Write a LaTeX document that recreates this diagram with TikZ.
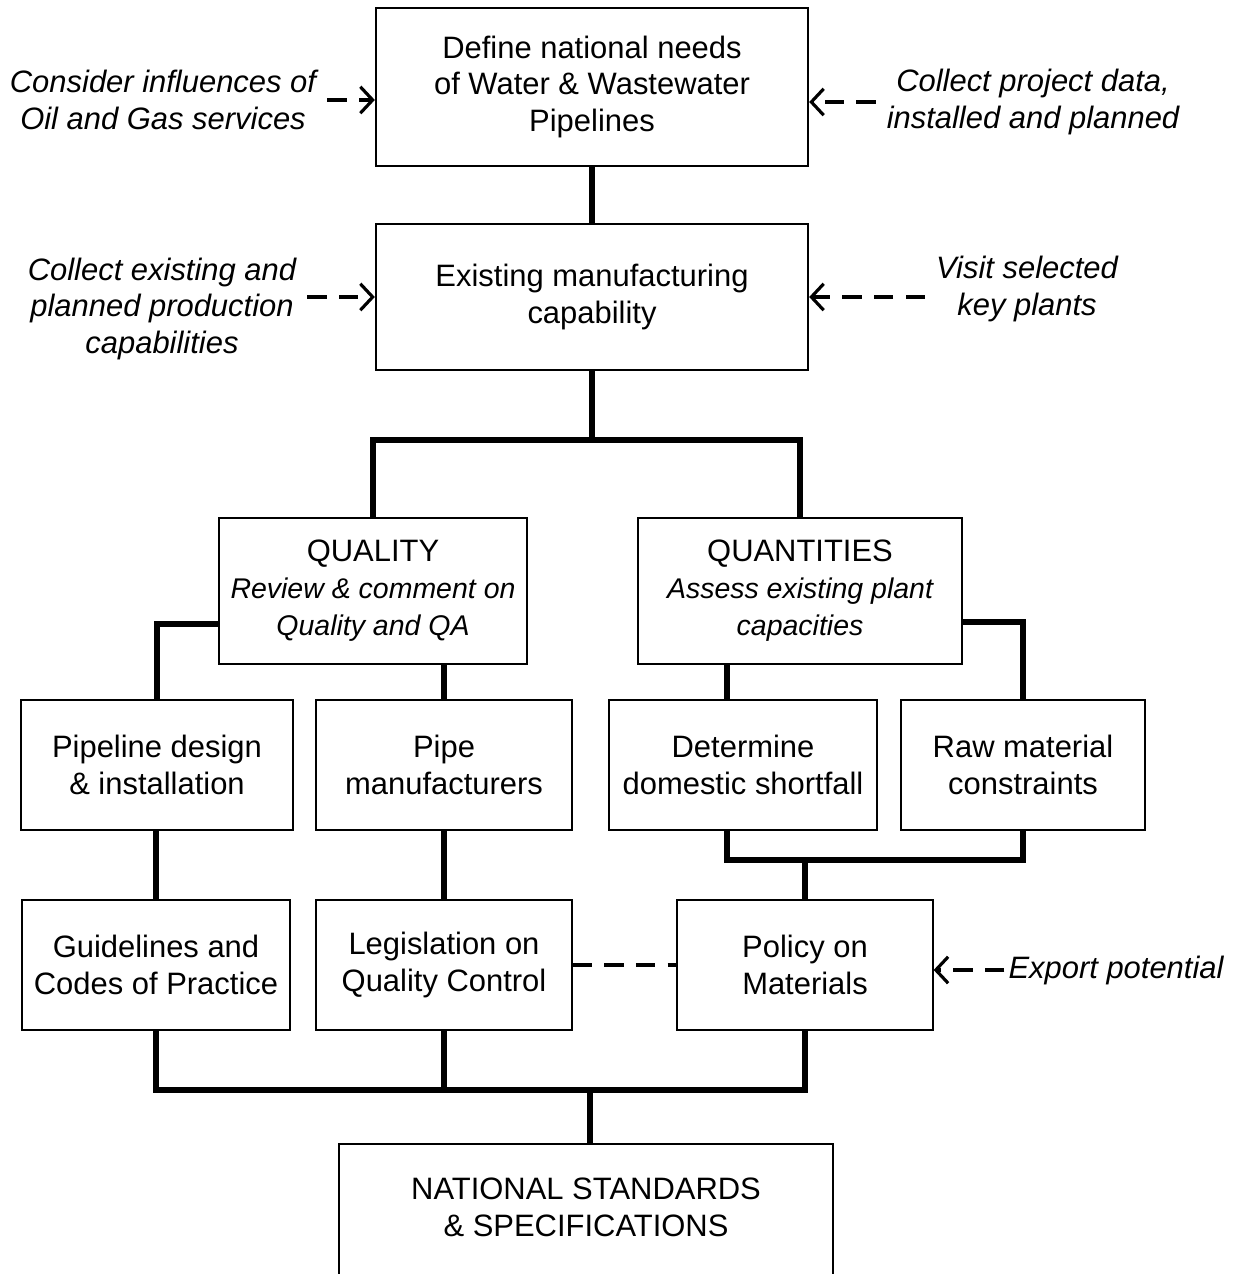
\documentclass[tikz,border=0pt]{standalone}
\usepackage{fontspec}
\setmainfont{Liberation Sans}
\usetikzlibrary{arrows.meta}

\newcommand{\subline}[1]{{\fontsize{8.1}{10.5}\selectfont\itshape #1}}

\begin{document}
\begin{tikzpicture}[x=0.01cm,y=-0.01cm,
            font=\fontsize{8.8}{10.5}\selectfont,
            box/.style={draw, line width=0.6pt, align=center, inner sep=0pt},
            note/.style={align=center, inner sep=3pt, font=\fontsize{8.8}{10.5}\selectfont\itshape},
            link/.style={line width=1.5pt},
            feed/.style={line width=0.9pt, dash pattern=on 5.5pt off 3.5pt, -{Straight Barb[length=3.5pt,width=7.5pt]}}]
        \useasboundingbox (0,0) rectangle (1243,1274);

        % main boxes
        \node[box, minimum width=4.32cm, minimum height=1.58cm] (needs) at (592,87)
            {Define national needs\\of Water \& Wastewater\\Pipelines};
        \node[box, minimum width=4.32cm, minimum height=1.46cm] (capab) at (592,297)
            {Existing manufacturing\\capability};
        \node[box, minimum width=3.07cm, minimum height=1.46cm] (quality) at (373,591)
            {QUALITY\\\subline{Review \& comment on}\\\subline{Quality and QA}};
        \node[box, minimum width=3.24cm, minimum height=1.46cm] (quantity) at (800,591)
            {QUANTITIES\\\subline{Assess existing plant}\\\subline{capacities}};
        \node[box, minimum width=2.71cm, minimum height=1.30cm] (design) at (157,765)
            {Pipeline design\\\& installation};
        \node[box, minimum width=2.55cm, minimum height=1.30cm] (makers) at (444,765)
            {Pipe\\manufacturers};
        \node[box, minimum width=2.67cm, minimum height=1.30cm] (shortfall) at (743,765)
            {Determine\\domestic shortfall};
        \node[box, minimum width=2.44cm, minimum height=1.30cm] (rawmat) at (1023,765)
            {Raw material\\constraints};
        \node[box, minimum width=2.68cm, minimum height=1.30cm] (guide) at (156,965)
            {Guidelines and\\Codes of Practice};
        \node[box, minimum width=2.55cm, minimum height=1.30cm] (legis) at (444,965)
            {Legislation on\\Quality Control};
        \node[box, minimum width=2.55cm, minimum height=1.30cm] (policy) at (805,965)
            {Policy on\\Materials};
        \node[align=center, inner sep=0pt, minimum width=4.92cm, minimum height=1.24cm] (standards) at (586,1207)
            {NATIONAL STANDARDS\\\& SPECIFICATIONS};
        \draw[line width=0.6pt] ([yshift=-0.1cm]standards.south west) -- (standards.north west)
            -- (standards.north east) -- ([yshift=-0.1cm]standards.south east);

        % side notes
        \node[note] (consider) at (163,100) {Consider influences of\\Oil and Gas services};
        \node[note] (project) at (1033,102) {Collect project data,\\installed and planned};
        \node[note] (existing) at (162,309) {Collect existing and\\planned production\\capabilities};
        \node[note] (visit) at (1027,289) {Visit selected\\key plants};
        \node[note, inner sep=1pt] (export) at (1116,970) {Export potential};

        \coordinate (fork) at (592,440);
        \coordinate (join) at (805,860);
        \coordinate (bus) at (590,1090);

        % connectors
        \draw[link] (needs) -- (capab);
        \draw[link] (capab) -- (fork);
        \draw[link] (quality.north) |- (fork) -| (quantity.north);
        \draw[link] ([yshift=-0.33cm]quality.west) -| (design.north);
        \draw[link] (makers.north) -- (makers.north |- quality.south);
        \draw[link] ([xshift=-0.16cm]shortfall.north) -- ([xshift=-0.16cm]shortfall.north |- quantity.south);
        \draw[link] ([yshift=-0.31cm]quantity.east) -| (rawmat.north);
        \draw[link] ([xshift=-0.16cm]shortfall.south) |- (join) -| (rawmat.south);
        \draw[link] (join) -- (policy.north);
        \draw[link] (guide.north) -- (guide.north |- design.south);
        \draw[link] (makers) -- (legis);
        \draw[link] (guide.south) |- (bus) -| (policy.south);
        \draw[link] (legis.south) -- (legis.south |- bus);
        \draw[link] (bus) -- (bus |- standards.north);

        \draw[line width=0.9pt, dash pattern=on 5.5pt off 3.5pt] (legis) -- (policy);

        % inputs
        \draw[feed] (consider.east) -- (consider.east -| needs.west);
        \draw[feed] (project.west) -- (project.west -| needs.east);
        \draw[feed] (existing.east |- capab) -- (capab.west);
        \draw[feed] (visit.west |- capab) -- (capab.east);
        \draw[feed] (export.west) -- (export.west -| policy.east);
    \end{tikzpicture}
\end{document}
